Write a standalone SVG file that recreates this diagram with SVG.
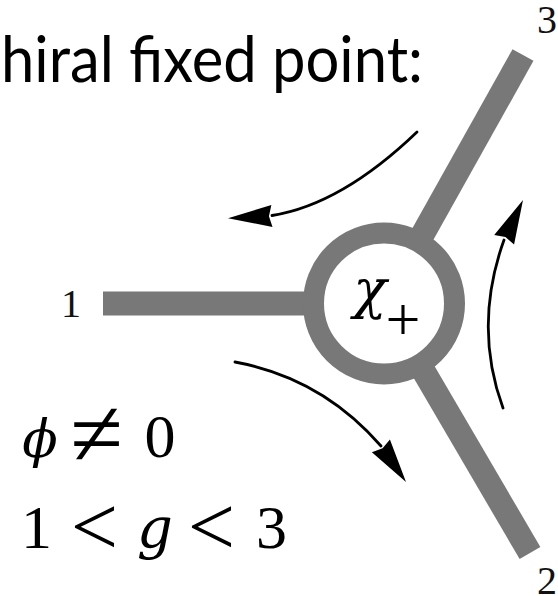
<svg xmlns="http://www.w3.org/2000/svg" xmlns:xlink="http://www.w3.org/1999/xlink" width="558" height="596" viewBox="0 0 558 596">
<style>
.arm{stroke:#787878;stroke-width:24;stroke-linecap:butt;fill:none}
.ring{stroke:#787878;stroke-width:21;fill:#ffffff}
.flow{stroke:#000;stroke-width:2.8;fill:none;stroke-linecap:round}
.lbl{font-family:"Liberation Serif","DejaVu Serif",serif;font-size:40px;fill:#111;text-anchor:middle}
.math{font-family:"Liberation Serif","DejaVu Serif",serif;fill:#000;text-anchor:middle}
.greek{font-family:"DejaVu Serif","Liberation Serif",serif;font-style:italic}
.title{font-family:Lato,"Open Sans",sans-serif;font-size:64px;fill:#000}
</style>
<defs>
<polygon id="ah" points="0,0 -44,-11 -41,0 -44,11" fill="#000"/>
</defs>
<rect width="558" height="596" fill="#fff"/>
<g id="title"><text class="title" x="1" y="82" textLength="422" lengthAdjust="spacingAndGlyphs">hiral fixed point:</text></g>
<g id="node-center">
<line class="arm" x1="103" y1="303.5" x2="384" y2="303.5"/>
<line class="arm" x1="384" y1="303.5" x2="523" y2="55"/>
<line class="arm" x1="384" y1="303.5" x2="530" y2="553"/>
<circle class="ring" cx="384" cy="303.5" r="70.5"/>
<text class="math greek" x="370" y="308" style="font-size:55px">χ</text>
<text class="math" x="403" y="340" style="font-size:62px">+</text>
</g>
<g id="node-1"><text class="lbl" x="71" y="317">1</text></g>
<g id="node-2"><text class="lbl" x="547" y="594">2</text></g>
<g id="node-3"><text class="lbl" x="547" y="33">3</text></g>
<g id="connectors">
<path class="flow" d="M417,132 Q341.5,204.5 272,215.5"/>
<use xlink:href="#ah" transform="translate(228,218.3) rotate(177)"/>
<path class="flow" d="M235,362 Q322,378 381,446"/>
<use xlink:href="#ah" transform="translate(406,482) rotate(55.2)"/>
<path class="flow" d="M503,408 Q473,326 504,240"/>
<use xlink:href="#ah" transform="translate(523,200) rotate(-64.6)"/>
</g>
<g id="conditions">
<text class="math" x="40" y="457" style="font-size:52px"><tspan class="greek">ϕ</tspan></text>
<text class="math" x="96.5" y="466" style="font-size:96px">≠</text>
<text class="math" x="160" y="457" style="font-size:62px">0</text>
<text class="math" x="36.5" y="548" style="font-size:62px">1</text>
<text class="math" x="94.5" y="555" style="font-size:84px">&lt;</text>
<text class="math greek" x="155" y="548" style="font-size:56px">g</text>
<text class="math" x="211.5" y="555" style="font-size:84px">&lt;</text>
<text class="math" x="271.5" y="548" style="font-size:62px">3</text>
</g>
</svg>
